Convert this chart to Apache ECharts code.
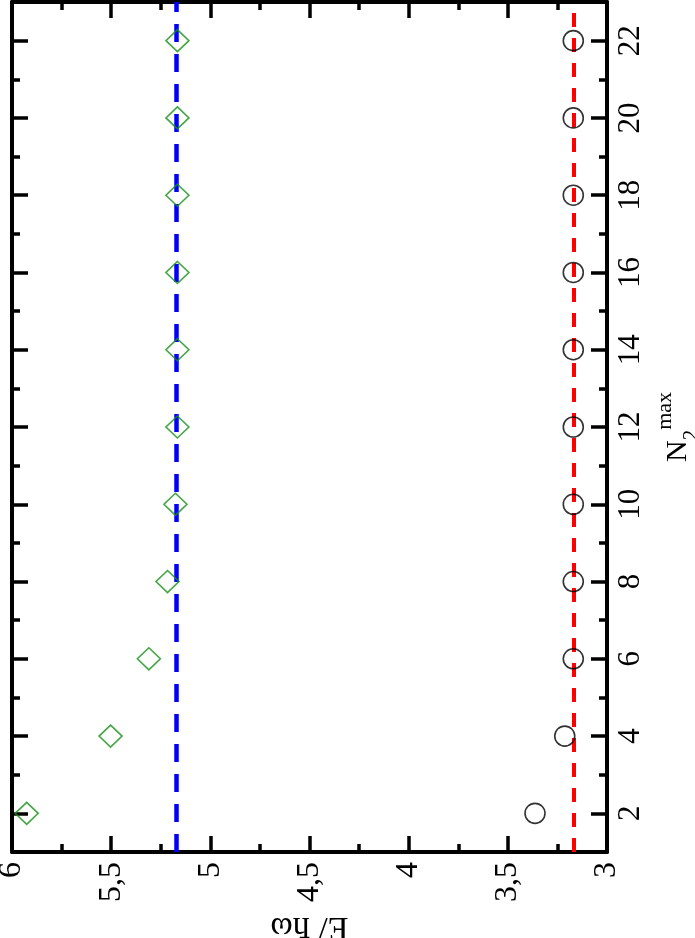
<!DOCTYPE html>
<html>
<head>
<meta charset="utf-8">
<script src="https://cdn.jsdelivr.net/npm/echarts@6/dist/echarts.min.js"></script>
<style>
  html, body { margin: 0; padding: 0; background: #fff; }
  #chart { width: 695px; height: 938px; }
</style>
</head>
<body>
<div id="chart"></div>
<script>
// N2^max values (vertical axis after rotation)
const nValues = [2, 4, 6, 8, 10, 12, 14, 16, 18, 20, 22];
// E / hbar omega, green diamonds
const diamondE = [5.926, 5.503, 5.31, 5.216, 5.176, 5.166, 5.166, 5.166, 5.166, 5.166, 5.166];
// E / hbar omega, black circles
const circleE = [3.363, 3.213, 3.17, 3.17, 3.17, 3.17, 3.17, 3.17, 3.17, 3.17, 3.17];
// asymptotic levels (dashed lines)
const blueLevel = 5.166;
const redLevel = 3.172;

const serif = "'Liberation Serif', 'Times New Roman', serif";

const chart = echarts.init(document.getElementById('chart'));

// ticks shared by all four sides of the frame
function frameAxis(extra) {
  return Object.assign({
    type: 'value',
    axisLine: { show: true, onZero: false, lineStyle: { color: '#000', width: 4 } },
    axisTick: { show: true, inside: true, length: 16, lineStyle: { color: '#000', width: 3.5 } },
    minorTick: { show: true, splitNumber: 2, length: 8, lineStyle: { color: '#000', width: 3.5 } },
    splitLine: { show: false },
    minorSplitLine: { show: false }
  }, extra);
}

const eAxis = {
  min: 3, max: 6, interval: 0.5, inverse: true
};
const nAxis = {
  min: 1, max: 23, splitNumber: 11
};

const option = {
  animation: false,
  grid: { left: 12, right: 88, top: 2, bottom: 86, outerBoundsMode: 'none', containLabel: false },
  xAxis: [
    frameAxis(Object.assign({
      position: 'bottom',
      name: 'E/ ħω',
      nameLocation: 'middle',
      nameRotate: 180,
      nameGap: 48,
      nameTextStyle: { fontFamily: serif, fontSize: 34, color: '#000' },
      axisLabel: {
        rotate: 90, margin: 10, fontFamily: serif, fontSize: 32, color: '#000',
        formatter: v => String(v).replace('.', ',')
      }
    }, eAxis)),
    frameAxis(Object.assign({ position: 'top', axisLabel: { show: false } }, eAxis))
  ],
  yAxis: [
    frameAxis(Object.assign({
      position: 'right',
      name: '{n|N}{sub|2}{sup|max}',
      nameLocation: 'middle',
      nameRotate: 90,
      nameGap: 36,
      nameTextStyle: {
        fontFamily: serif, color: '#000',
        rich: {
          n: { fontFamily: serif, fontSize: 30, color: '#000', lineHeight: 48, verticalAlign: 'middle' },
          sub: { fontFamily: serif, fontSize: 21, color: '#000', lineHeight: 20, verticalAlign: 'bottom' },
          sup: { fontFamily: serif, fontSize: 22, color: '#000', lineHeight: 22, verticalAlign: 'top' }
        }
      },
      axisLabel: {
        rotate: 90, margin: 8, fontFamily: serif, fontSize: 31, color: '#000',
        align: 'center', verticalAlign: 'top',
        showMinLabel: false, showMaxLabel: false,
        formatter: v => (v % 2 === 0 ? String(v) : '')
      }
    }, nAxis)),
    frameAxis(Object.assign({ position: 'left', axisLabel: { show: false } }, nAxis))
  ],
  series: [
    {
      name: 'levels-blue',
      type: 'scatter',
      data: [],
      silent: true,
      markLine: {
        silent: true,
        symbol: 'none',
        label: { show: false },
        lineStyle: { color: '#0000ff', width: 4.5, type: [18, 12] },
        data: [{ xAxis: blueLevel }]
      }
    },
    {
      name: 'levels-red',
      type: 'scatter',
      data: [],
      silent: true,
      markLine: {
        silent: true,
        symbol: 'none',
        label: { show: false },
        lineStyle: { color: '#ff0000', width: 4, type: [14, 11] },
        data: [{ xAxis: redLevel }]
      }
    },
    {
      name: 'diamonds',
      type: 'scatter',
      symbol: 'diamond',
      symbolSize: [23, 22],
      z: 5,
      itemStyle: { color: 'transparent', borderColor: '#159015', borderWidth: 1.6 },
      data: nValues.map((n, i) => [diamondE[i], n])
    },
    {
      name: 'circles',
      type: 'scatter',
      symbol: 'circle',
      symbolSize: 20,
      z: 5,
      itemStyle: { color: 'transparent', borderColor: '#000', borderWidth: 1.6 },
      data: nValues.map((n, i) => [circleE[i], n])
    }
  ]
};

chart.setOption(option);
</script>
</body>
</html>
